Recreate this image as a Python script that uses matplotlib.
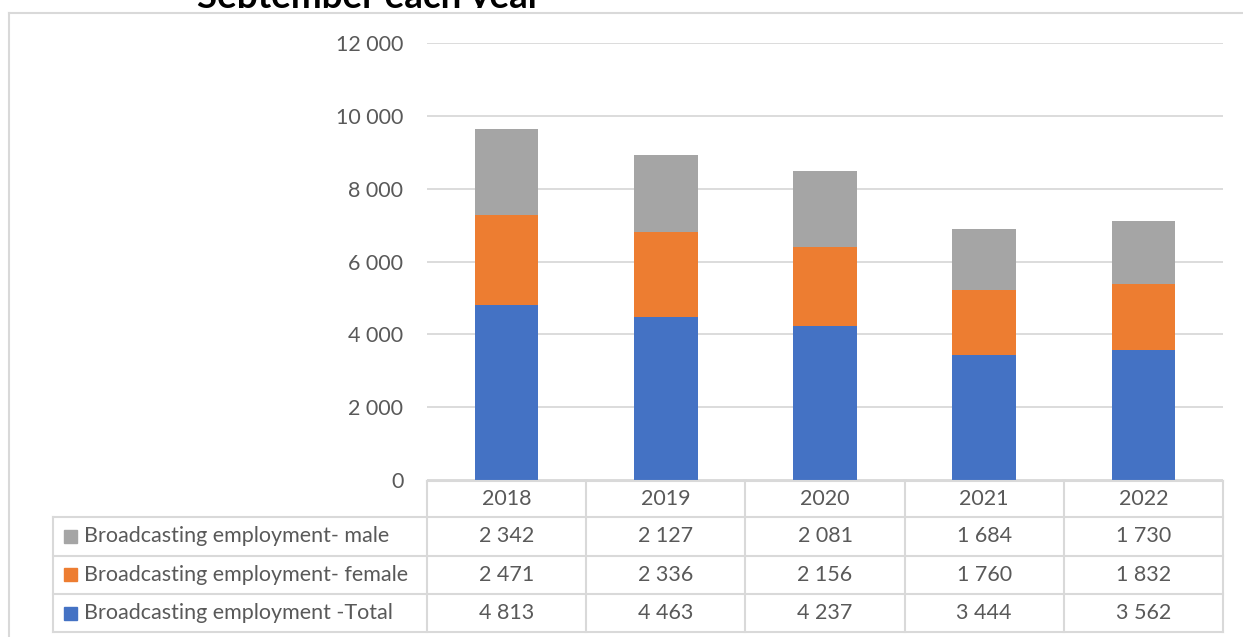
import matplotlib
matplotlib.use("Agg")
import matplotlib.pyplot as plt
from matplotlib.transforms import blended_transform_factory, Bbox, TransformedBbox
from matplotlib.lines import Line2D
from matplotlib.patches import Rectangle

# -----------------------------
# Data
# -----------------------------
years = ["2018", "2019", "2020", "2021", "2022"]
total = [4813, 4463, 4237, 3444, 3562]
female = [2471, 2336, 2156, 1760, 1832]
male = [2342, 2127, 2081, 1684, 1730]

series_names = [
    "Broadcasting employment- male",
    "Broadcasting employment- female",
    "Broadcasting employment -Total",
]
colors = {"total": "#4472C4", "female": "#ED7D31", "male": "#A5A5A5"}
y_ticks = [0, 2000, 4000, 6000, 8000, 10000, 12000]

GRID = "#D9D9D9"
TXT = "#595959"
FS = 15.5
W, H = 1243, 637


def fmt(v):
    return f"{v:,}".replace(",", " ")


def fx(px):
    return px / W


def fy(py):
    # py measured from top of the image
    return 1 - py / H


plt.rcParams["font.family"] = ["Lato", "DejaVu Sans"]

fig = plt.figure(figsize=(W / 100, H / 100), dpi=100)
fig.patch.set_facecolor("white")

# chart area frame (left and top edges visible)
fig.add_artist(Line2D([fx(9), fx(9)], [fy(13), 0], color=GRID, lw=1.5, transform=fig.transFigure))
fig.add_artist(Line2D([fx(9), 1], [fy(13), fy(13)], color=GRID, lw=1.5, transform=fig.transFigure))

# title sits above the chart box, only its lower part shows
title = fig.text(fx(197), fy(7.5), "September each year", fontsize=26.5, fontweight="bold",
                 color="black", ha="left", va="baseline")
title.set_clip_box(TransformedBbox(Bbox([[0, fy(7.5)], [1, 1]]), fig.transFigure))
title.set_clip_on(True)

# -----------------------------
# Stacked bars
# -----------------------------
ax_left, ax_right, ax_top, ax_bot = 427, 1223, 43, 480
ax = fig.add_axes([fx(ax_left), fy(ax_bot), fx(ax_right - ax_left), (ax_bot - ax_top) / H])

x = list(range(len(years)))
bw = 0.4
ax.bar(x, total, width=bw, color=colors["total"], zorder=3)
ax.bar(x, female, width=bw, bottom=total, color=colors["female"], zorder=3)
bottom_male = [t + f for t, f in zip(total, female)]
ax.bar(x, male, width=bw, bottom=bottom_male, color=colors["male"], zorder=3)

ax.set_xlim(-0.5, len(years) - 0.5)
ax.set_ylim(0, 12000)
ax.set_yticks(y_ticks)
ax.set_yticklabels([fmt(t) for t in y_ticks], fontsize=FS, color=TXT)
ax.set_xticks([])
ax.tick_params(axis="y", length=0, pad=17)
ax.yaxis.grid(True, color=GRID, lw=1.3, zorder=0)
for s in ax.spines.values():
    s.set_visible(False)

# -----------------------------
# Data table under the axis
# -----------------------------
tr = blended_transform_factory(ax.transData, fig.transFigure)
row_edges = [481, 517, 555.5, 594, 632]
tbl_left = 53

# horizontal lines
fig.add_artist(Line2D([fx(ax_left), fx(ax_right)], [fy(row_edges[0])] * 2,
                      color=GRID, lw=1.5, transform=fig.transFigure))
for r in row_edges[1:]:
    fig.add_artist(Line2D([fx(tbl_left), fx(ax_right)], [fy(r)] * 2,
                          color=GRID, lw=1.5, transform=fig.transFigure))

# vertical lines
fig.add_artist(Line2D([fx(tbl_left)] * 2, [fy(row_edges[1]), fy(row_edges[-1])],
                      color=GRID, lw=1.5, transform=fig.transFigure))
for k in range(len(years) + 1):
    fig.add_artist(Line2D([k - 0.5] * 2, [fy(row_edges[0]), fy(row_edges[-1])],
                          color=GRID, lw=1.5, transform=tr))

# header row with years
hc = (row_edges[0] + row_edges[1]) / 2
for i, yr in enumerate(years):
    fig.text(i, fy(hc), yr, transform=tr, ha="center", va="center",
             fontsize=FS, color=TXT)

rows = [(series_names[0], male, colors["male"]),
        (series_names[1], female, colors["female"]),
        (series_names[2], total, colors["total"])]
sq = 13
for j, (name, vals, col) in enumerate(rows):
    c = (row_edges[j + 1] + row_edges[j + 2]) / 2
    fig.add_artist(Rectangle((fx(64), fy(c + sq / 2)), fx(sq), sq / H,
                             color=col, transform=fig.transFigure))
    fig.text(fx(84), fy(c), name, ha="left", va="center", fontsize=FS, color=TXT)
    for i, v in enumerate(vals):
        fig.text(i, fy(c), fmt(v), transform=tr, ha="center", va="center",
                 fontsize=FS, color=TXT)

fig.savefig("out.png", dpi=100)
plt.close(fig)
